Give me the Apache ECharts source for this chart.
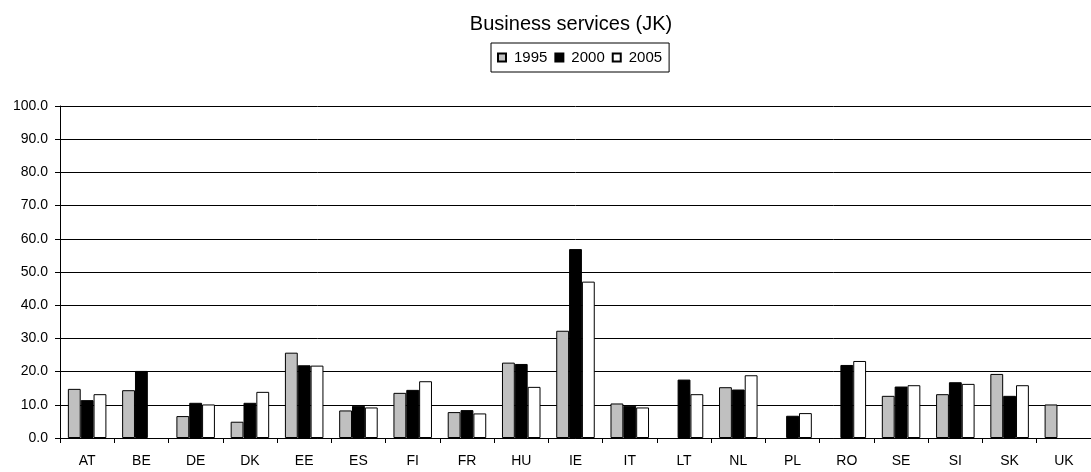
<!DOCTYPE html>
<html><head><meta charset="utf-8">
<script src="https://cdn.jsdelivr.net/npm/echarts@6/dist/echarts.min.js"></script>
<style>html,body{margin:0;padding:0;background:#fff}#c{width:1091px;height:472px}</style>
</head><body><div id="c"></div>
<script>
const categories = ['AT','BE','DE','DK','EE','ES','FI','FR','HU','IE','IT','LT','NL','PL','RO','SE','SI','SK','UK'];
const v1995 = [14.8,14.4,6.6,4.9,25.7,8.3,13.6,7.8,22.7,32.3,10.4,null,15.3,null,null,12.7,13.2,19.3,10.1];
const v2000 = [11.4,20.2,10.6,10.6,21.9,9.7,14.5,8.4,22.3,56.9,9.7,17.6,14.6,6.7,22.0,15.5,16.8,12.7,null];
const v2005 = [13.2,null,10.1,13.9,21.8,9.2,17.1,7.4,15.4,47.1,9.2,13.2,18.9,7.5,23.2,15.9,16.3,15.9,null];
const yTicks = [0,10,20,30,40,50,60,70,80,90,100];
const seriesNames = ['1995','2000','2005'];
const colors = ['#C0C0C0','#000000','#FFFFFF'];

const font = 'Liberation Sans, Arial, sans-serif';
const chart = echarts.init(document.getElementById('c'), null, {renderer:'canvas'});
const dataSets = [v1995, v2000, v2005];
chart.setOption({
  animation:false,
  backgroundColor:'#fff',
  title:{text:'Business services (JK)', left:566, textAlign:'center', top:9,
    textStyle:{fontFamily:font, fontSize:20, fontWeight:'normal', color:'#000'}},
  legend:{top:43, left:491, orient:'horizontal',
    data:seriesNames, itemWidth:8, itemHeight:8, itemGap:7,
    borderColor:'#000', borderWidth:1, padding:[7,7,7,6],
    textStyle:{fontFamily:font, fontSize:15, color:'#000', padding:[0,0,0,3]},
    icon:'rect'},
  grid:{left:60, right:0, top:106, bottom:34, containLabel:false},
  xAxis:{type:'category', data:categories,
    axisLine:{lineStyle:{color:'#000', width:1}},
    axisTick:{show:true, alignWithLabel:false, length:5, inside:false, lineStyle:{color:'#000'}},
    axisLabel:{fontFamily:font, fontSize:14, color:'#000', margin:16},
    splitLine:{show:false}},
  yAxis:{type:'value', min:0, max:100, interval:10,
    axisLine:{show:true, lineStyle:{color:'#000', width:1}},
    axisTick:{show:true, length:5, lineStyle:{color:'#000'}},
    axisLabel:{fontFamily:font, fontSize:14, color:'#000', margin:12,
      formatter:v=>yTicks.includes(v)?v.toFixed(1):''},
    splitLine:{show:true, lineStyle:{color:'#000', width:1}}},
  series: seriesNames.map((n,i)=>({
    name:n, type:'bar', data:dataSets[i], barGap:'0%', barCategoryGap:'29%',
    itemStyle:{color:colors[i], borderColor:'#000', borderWidth:1}
  }))
});
</script></body></html>
